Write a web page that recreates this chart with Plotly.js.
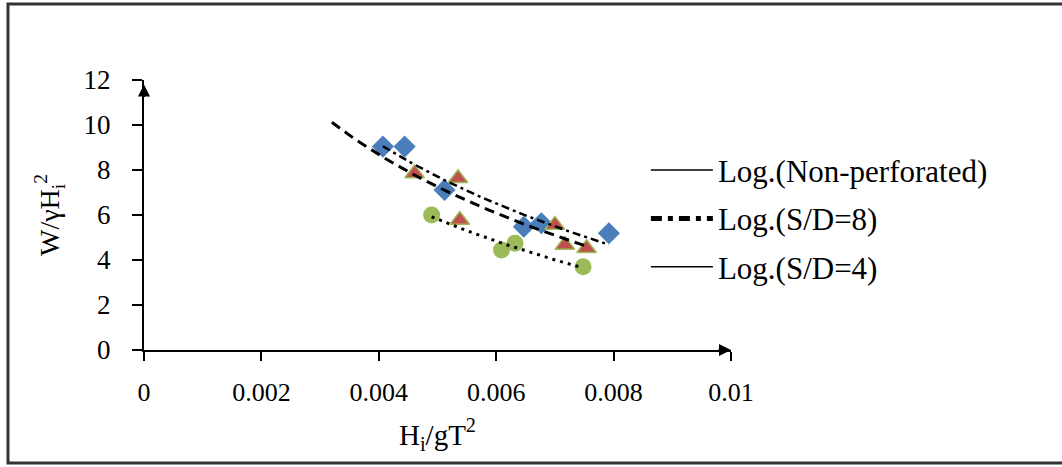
<!DOCTYPE html>
<html>
<head>
<meta charset="utf-8">
<script src="https://cdn.plot.ly/plotly-3.0.1.min.js"></script>
<style>html,body{margin:0;padding:0;background:#fff;}#chart{width:1062px;height:467px;}</style>
</head>
<body>
<div id="chart"></div>
<script>
// Data
const nonPerfX = [0.00407, 0.00444, 0.00512, 0.00647, 0.00677, 0.00792];
const nonPerfY = [9.04, 9.04, 7.11, 5.48, 5.63, 5.19];
const sd8X = [0.00461, 0.00535, 0.00538, 0.00700, 0.00717, 0.00754];
const sd8Y = [7.85, 7.63, 5.78, 5.56, 4.67, 4.52];
const sd4X = [0.00490, 0.00609, 0.00632, 0.00748];
const sd4Y = [6.00, 4.44, 4.74, 3.70];
const sd8TrendStart = 0.0032; // backward forecast of the S/D=8 trend line
const legendNames = ['Log.(Non-perforated)', 'Log.(S/D=8)', 'Log.(S/D=4)'];
const xTicks = [0, 0.002, 0.004, 0.006, 0.008, 0.01];
const xTickText = ['0', '0.002', '0.004', '0.006', '0.008', '0.01'];
const yTicks = [0, 2, 4, 6, 8, 10, 12];

// logarithmic least-squares trend line (like a spreadsheet "Log." trendline)
function logTrend(xs, ys, x0, x1) {
  const n = xs.length;
  const lx = xs.map(Math.log);
  const mx = lx.reduce((a, b) => a + b, 0) / n;
  const my = ys.reduce((a, b) => a + b, 0) / n;
  let sxy = 0, sxx = 0;
  for (let i = 0; i < n; i++) { sxy += (lx[i] - mx) * (ys[i] - my); sxx += (lx[i] - mx) ** 2; }
  const a = sxy / sxx, b = my - a * mx;
  const tx = [], ty = [];
  const steps = 60;
  for (let k = 0; k <= steps; k++) {
    const x = x0 + (x1 - x0) * k / steps;
    tx.push(x); ty.push(a * Math.log(x) + b);
  }
  return {x: tx, y: ty};
}

const tNon = logTrend(nonPerfX, nonPerfY, Math.min(...nonPerfX), Math.max(...nonPerfX));
const t8 = logTrend(sd8X, sd8Y, sd8TrendStart, Math.max(...sd8X));
const t4 = logTrend(sd4X, sd4Y, Math.min(...sd4X), Math.max(...sd4X));

const serif = 'Liberation Serif, Times New Roman, serif';

const traces = [
  {x: sd4X, y: sd4Y, type: 'scatter', mode: 'markers', showlegend: false, hoverinfo: 'skip',
   marker: {symbol: 'circle', size: 17, color: '#9BBB59', line: {width: 0}}},
  {x: nonPerfX, y: nonPerfY, type: 'scatter', mode: 'markers', showlegend: false, hoverinfo: 'skip',
   marker: {symbol: 'diamond', size: 17, color: '#4A7EBB', line: {width: 0}}},
  {x: sd8X, y: sd8Y, type: 'scatter', mode: 'markers', showlegend: false, hoverinfo: 'skip',
   marker: {symbol: 'triangle-up', size: 17, color: '#C0504D', line: {width: 1.5, color: '#9BBB59'}}},
  {x: tNon.x, y: tNon.y, type: 'scatter', mode: 'lines', showlegend: false, hoverinfo: 'skip',
   line: {color: '#000', width: 2.5, dash: '8px,4px,3px,4px'}},
  {x: t8.x, y: t8.y, type: 'scatter', mode: 'lines', showlegend: false, hoverinfo: 'skip',
   line: {color: '#000', width: 3, dash: '10px,6px'}},
  {x: t4.x, y: t4.y, type: 'scatter', mode: 'lines', showlegend: false, hoverinfo: 'skip',
   line: {color: '#000', width: 3, dash: '3px,5px'}},
  // legend entries
  {x: [null], y: [null], type: 'scatter', mode: 'lines', name: legendNames[0], legendgroup: 'a',
   line: {color: '#000', width: 1.5}},
  {x: [null], y: [null], type: 'scatter', mode: 'lines', name: legendNames[1], legendgroup: 'b',
   line: {color: '#000', width: 5, dash: '11px,6px,5px,6px'}},
  {x: [null], y: [null], type: 'scatter', mode: 'lines', name: legendNames[2], legendgroup: 'c',
   line: {color: '#000', width: 1.5}}
];

const layout = {
  width: 1062, height: 467,
  margin: {l: 144, r: 331, t: 80, b: 117},
  paper_bgcolor: '#fff', plot_bgcolor: 'rgba(0,0,0,0)',
  font: {family: serif, color: '#000', size: 26},
  showlegend: true,
  legend: {x: 0.855, y: 0.765, xanchor: 'left', yanchor: 'top', bgcolor: 'rgba(0,0,0,0)',
           font: {family: serif, size: 31, color: '#000'}, tracegroupgap: 5, itemwidth: 62},
  xaxis: {range: [0, 0.01], tickvals: xTicks, ticktext: xTickText, showgrid: false, zeroline: false,
          showline: true, linecolor: '#000', linewidth: 2, ticks: 'outside', ticklen: 9, tickwidth: 2,
          tickcolor: '#000', ticklabelstandoff: 9, tickfont: {family: serif, size: 26, color: '#000'},
          title: {text: 'H<sub>i</sub>/gT<sup>2</sup>', font: {family: serif, size: 29, color: '#000'}, standoff: 18}},
  yaxis: {range: [0, 12], tickvals: yTicks, showgrid: false, zeroline: false,
          showline: true, linecolor: '#000', linewidth: 2, ticks: 'outside', ticklen: 10, tickwidth: 2,
          tickcolor: '#000', ticklabelstandoff: 16, tickfont: {family: serif, size: 27, color: '#000'},
          title: {text: 'W/γH<sub>i</sub><sup>2</sup>', font: {family: serif, size: 28, color: '#000'}, standoff: 16}},
  annotations: [
    {x: 0.01, y: 0, xref: 'x', yref: 'y', ax: -14, ay: 0, text: '', showarrow: true,
     arrowhead: 2, arrowsize: 1.2, arrowwidth: 2, arrowcolor: '#000'},
    {x: 0, y: 11.8, xref: 'x', yref: 'y', ax: 0, ay: 14, text: '', showarrow: true,
     arrowhead: 2, arrowsize: 1.2, arrowwidth: 2, arrowcolor: '#000'}
  ],
  shapes: [
    {type: 'rect', xref: 'paper', yref: 'paper', x0: -0.2317, x1: 1.6, y0: -0.4185, y1: 1.2815,
     line: {color: '#333', width: 3}, fillcolor: 'rgba(0,0,0,0)'}
  ]
};

Plotly.newPlot('chart', traces, layout, {staticPlot: true, displayModeBar: false});
</script>
</body>
</html>
